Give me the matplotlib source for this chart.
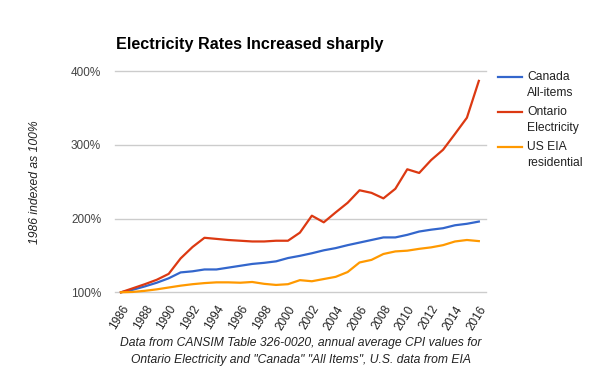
import matplotlib
matplotlib.use("Agg")
import matplotlib.pyplot as plt
from matplotlib.lines import Line2D

plt.rcParams['font.family'] = ['Liberation Sans', 'DejaVu Sans']

# annual values, 1986 = 100%
years = list(range(1986, 2017))
canada = [100, 103.5, 108, 113, 119, 127, 128.5, 131, 131, 133.5, 136, 138.5, 140, 142, 146.5,
          149.5, 153, 157, 160, 164, 167.5, 171, 174.5, 174.5, 178, 182.5, 185, 187, 191, 193, 196]
ontario = [100, 105.5, 111, 117, 125, 146, 161.5, 174, 172.5, 171, 170, 169, 169, 170, 170,
           181, 204, 195, 208.5, 221.5, 238.5, 235, 227.5, 240.5, 267, 262, 279.5, 293.5, 315, 337, 387]
us_eia = [100, 100.5, 102, 104, 106.5, 109, 111, 112.5, 113.5, 113.5, 113, 114, 111.5, 110, 111,
          116.5, 115, 118, 121, 127.5, 140.5, 144, 152, 155.5, 156.5, 159, 161, 164, 169, 171, 169.5]

series = [
    ("Canada\nAll-items", canada, "#3366cc"),
    ("Ontario\nElectricity", ontario, "#dc3912"),
    ("US EIA\nresidential", us_eia, "#ff9900"),
]

yticks = [100, 200, 300, 400]
xticks = list(range(1986, 2017, 2))

fig = plt.figure(figsize=(6, 3.71), dpi=100)
ax = fig.add_axes([115/600, 1 - 292.3/371, 371/600, 221/371])

for i in yticks:
    ax.axhline(i, color="#cccccc", lw=1, zorder=0, clip_on=False)

for name, vals, col in series:
    ax.plot(years, vals, color=col, lw=1.6, clip_on=False, zorder=3)

ax.set_xlim(1985.5, 2016.6)
ax.set_ylim(100, 400)
ax.set_yticks(yticks)
ax.set_yticklabels([f"{v}%" for v in yticks], color="#444444", fontsize=8.5)
ax.set_xticks(xticks)
ax.set_xticklabels([str(y) for y in xticks], rotation=58, ha="right",
                   rotation_mode="anchor", color="#222222", fontsize=8.5)
ax.tick_params(axis="y", length=0, pad=10)
ax.tick_params(axis="x", length=0, pad=8)
for s in ax.spines.values():
    s.set_visible(False)

fig.text(116/600, 1 - 45/371, "Electricity Rates Increased sharply", fontsize=11.6,
         fontweight="bold", va="center", ha="left", color="#000000")
fig.text(35/600, 1 - 182/371, "1986 indexed as 100%", rotation=90, style="italic",
         fontsize=8.7, va="center", ha="center", color="#222222")
fig.text(301/600, 1 - 343/371, "Data from CANSIM Table 326-0020, annual average CPI values for",
         style="italic", fontsize=8.7, va="center", ha="center", color="#222222")
fig.text(301/600, 1 - 360/371, "Ontario Electricity and \"Canada\" \"All Items\", U.S. data from EIA",
         style="italic", fontsize=8.7, va="center", ha="center", color="#222222")

# legend drawn by hand
for k, (name, vals, col) in enumerate(series):
    ytop = 76.7 + k * 35
    fig.add_artist(Line2D([498/600, 522/600], [1 - ytop/371, 1 - ytop/371], color=col, lw=1.6))
    first, second = name.split("\n")
    fig.text(527/600, 1 - ytop/371, first, fontsize=8.7, va="center", ha="left", color="#222222")
    fig.text(527/600, 1 - (ytop + 16)/371, second, fontsize=8.7, va="center", ha="left", color="#222222")

fig.savefig("out.png", dpi=100)
